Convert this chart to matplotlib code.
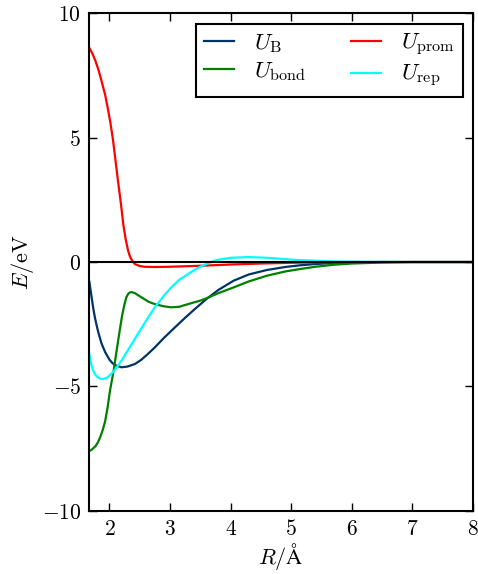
import matplotlib
matplotlib.use("Agg")
import matplotlib.pyplot as plt

plt.rcParams['font.family'] = 'serif'
plt.rcParams['font.serif'] = ['cmr10', 'DejaVu Serif']
plt.rcParams['mathtext.fontset'] = 'cm'
plt.rcParams['axes.formatter.use_mathtext'] = True
plt.rcParams['font.size'] = 15.5

# Potential curves, read as (R, E) pairs
r_B = [1.67, 1.7, 1.73, 1.76, 1.79, 1.82, 1.87, 1.93, 2.0, 2.05, 2.1, 2.2, 2.3,
       2.42, 2.52, 2.62, 2.75, 2.9, 3.08, 3.25, 3.41, 3.6, 3.8, 4.05, 4.3, 4.6,
       4.9, 5.15, 5.4, 5.7, 6.0, 6.5, 8.0]
u_B = [-0.8, -1.3, -1.8, -2.22, -2.55, -2.85, -3.27, -3.62, -3.92, -4.06, -4.15,
       -4.23, -4.2, -4.1, -3.94, -3.73, -3.43, -3.05, -2.63, -2.24, -1.89, -1.49,
       -1.12, -0.75, -0.5, -0.32, -0.2, -0.13, -0.08, -0.04, -0.02, 0.0, 0.0]

r_bond = [1.67, 1.72, 1.77, 1.81, 1.85, 1.89, 1.93, 1.97, 2.01, 2.07, 2.12, 2.17,
          2.21, 2.25, 2.28, 2.31, 2.34, 2.37, 2.42, 2.53, 2.65, 2.75, 2.9, 3.02,
          3.15, 3.3, 3.5, 3.6, 3.8, 4.05, 4.3, 4.6, 4.9, 5.15, 5.4, 5.7, 6.0,
          6.5, 7.0, 8.0]
u_bond = [-7.6, -7.52, -7.4, -7.25, -7.03, -6.75, -6.4, -5.85, -5.17, -4.37,
          -3.55, -2.76, -2.15, -1.69, -1.42, -1.28, -1.22, -1.21, -1.25, -1.42,
          -1.6, -1.69, -1.78, -1.82, -1.8, -1.69, -1.55, -1.46, -1.25, -1.02,
          -0.78, -0.55, -0.38, -0.28, -0.19, -0.11, -0.06, -0.02, 0.0, 0.0]

r_prom = [1.67, 1.72, 1.77, 1.82, 1.87, 1.93, 1.98, 2.02, 2.06, 2.1, 2.14, 2.19,
          2.23, 2.27, 2.31, 2.34, 2.37, 2.42, 2.5, 2.58, 2.75, 3.0, 3.5, 4.0,
          4.5, 5.0, 5.5, 6.0, 8.0]
u_prom = [8.6, 8.38, 8.08, 7.72, 7.28, 6.72, 6.1, 5.55, 4.9, 4.1, 3.3, 2.35, 1.5,
          0.9, 0.45, 0.22, 0.08, -0.08, -0.16, -0.19, -0.2, -0.19, -0.15, -0.1,
          -0.06, -0.03, -0.01, 0.0, 0.0]

r_rep = [1.67, 1.7, 1.73, 1.76, 1.8, 1.85, 1.9, 1.96, 2.03, 2.1, 2.2, 2.33, 2.47,
         2.6, 2.75, 2.9, 3.02, 3.15, 3.3, 3.45, 3.6, 3.77, 4.0, 4.3, 4.6, 4.87,
         5.1, 5.42, 5.8, 6.3, 7.0, 8.0]
u_rep = [-3.7, -4.1, -4.35, -4.5, -4.62, -4.69, -4.7, -4.65, -4.5, -4.3, -3.96,
         -3.45, -2.89, -2.38, -1.82, -1.35, -1.02, -0.72, -0.48, -0.25, -0.08,
         0.08, 0.17, 0.2, 0.17, 0.12, 0.08, 0.05, 0.02, 0.01, 0.0, 0.0]

fig = plt.figure(figsize=(4.78, 5.74), dpi=100)
ax = fig.add_axes([0.187, 0.11, 0.8025, 0.867])

ax.plot(r_B, u_B, color='#003366', lw=1.6, label=r'$U_{\rm B}$')
ax.plot(r_bond, u_bond, color='green', lw=1.6, label=r'$U_{\rm bond}$')
ax.plot(r_prom, u_prom, color='red', lw=1.6, label=r'$U_{\rm prom}$')
ax.plot(r_rep, u_rep, color='cyan', lw=1.6, label=r'$U_{\rm rep}$')
ax.axhline(0, color='black', lw=1.5)

ax.set_xlim(1.67, 8)
ax.set_ylim(-10, 10)
ax.set_xticks([2, 3, 4, 5, 6, 7, 8])
ax.set_yticks([-10, -5, 0, 5, 10])
ax.tick_params(direction='in', top=True, right=True, length=5.5, width=1, pad=6)
for s in ax.spines.values():
    s.set_linewidth(1.5)

ax.set_xlabel(r'$R/\mathrm{\AA}$', fontsize=16, labelpad=1)
ax.set_ylabel(r'$E/\mathrm{eV}$', fontsize=16, labelpad=4)

leg = ax.legend(loc='upper right', ncol=2, fontsize=16.5, fancybox=False,
                framealpha=1, edgecolor='black', handlelength=1.3,
                handletextpad=0.85, columnspacing=2.0, borderpad=0.35,
                labelspacing=0.25, borderaxespad=0.45)
leg.get_frame().set_linewidth(1.5)

fig.savefig('out.png', dpi=100)
